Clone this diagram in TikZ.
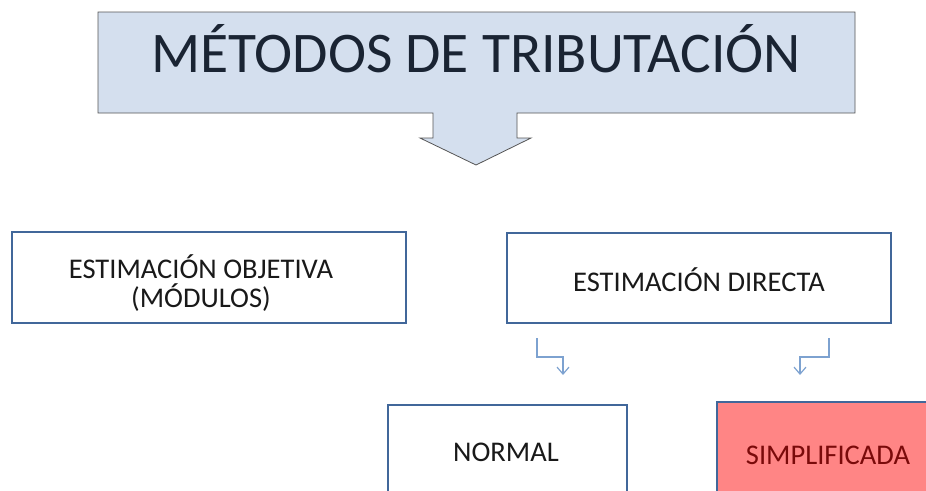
\documentclass[tikz,border=0pt]{standalone}
\usepackage{fontspec}
\setmainfont{Carlito}
\usetikzlibrary{arrows.meta}
\definecolor{calloutfill}{HTML}{D4DFEE}
\definecolor{calloutdraw}{HTML}{555555}
\definecolor{titletext}{HTML}{1A2433}
\definecolor{boxdraw}{HTML}{41679A}
\definecolor{pinkfill}{HTML}{FF8585}
\definecolor{darkred}{HTML}{7A0A0A}
\definecolor{smallarrow}{HTML}{7DA2D0}
\tikzset{
  box/.style={draw=boxdraw, line width=2pt, fill=white, inner sep=0pt},
  boxtext/.style={font=\fontsize{28.5}{29}\selectfont, text=black!90, align=center},
  bentarrow/.style={draw=smallarrow, line width=1.2pt, -{Straight Barb[length=7pt,width=12pt]}},
}
\begin{document}
\begin{tikzpicture}[x=1pt,y=-1pt]
\useasboundingbox (0,0) rectangle (926,490);
\clip (0,0) rectangle (926,490);
% callout
\draw[fill=calloutfill, draw=calloutdraw, line width=0.8pt]
  (98,12) -- (855,12) -- (855,113) -- (517,113) -- (517,138) -- (531,138)
  -- (476,165) -- (420,138) -- (433,138) -- (433,113) -- (98,113) -- cycle;
\node[font=\fontsize{57.5}{60}\selectfont, text=titletext] (title) at (476,49) {MÉTODOS DE TRIBUTACIÓN};
% level 2 boxes
\node[box, minimum width=394pt, minimum height=91pt] (obj) at (209,277.5) {};
\node[boxtext] (objt) at (201,283) {ESTIMACIÓN OBJETIVA\\(MÓDULOS)};
\node[box, minimum width=384pt, minimum height=90pt] (dir) at (699,278) {};
\node[boxtext] (dirt) at (699,280) {ESTIMACIÓN DIRECTA};
% level 3 boxes
\node[box, minimum width=239pt, minimum height=110pt] (norm) at (507.5,460) {};
\node[boxtext] (normt) at (506,452) {NORMAL};
\node[box, fill=pinkfill, minimum width=240pt, minimum height=110pt] (simp) at (837,457) {};
\node[boxtext, text=darkred] (simpt) at (828,455) {SIMPLIFICADA};
% small bent arrows
\coordinate (a1) at (537,338);
\coordinate (a1e) at (563,375);
\coordinate (a2) at (829,338);
\coordinate (a2e) at (800,375);
\draw[bentarrow] (a1) |- (563,357) -- (a1e);
\draw[bentarrow] (a2) |- (800,357) -- (a2e);
\end{tikzpicture}
\end{document}
